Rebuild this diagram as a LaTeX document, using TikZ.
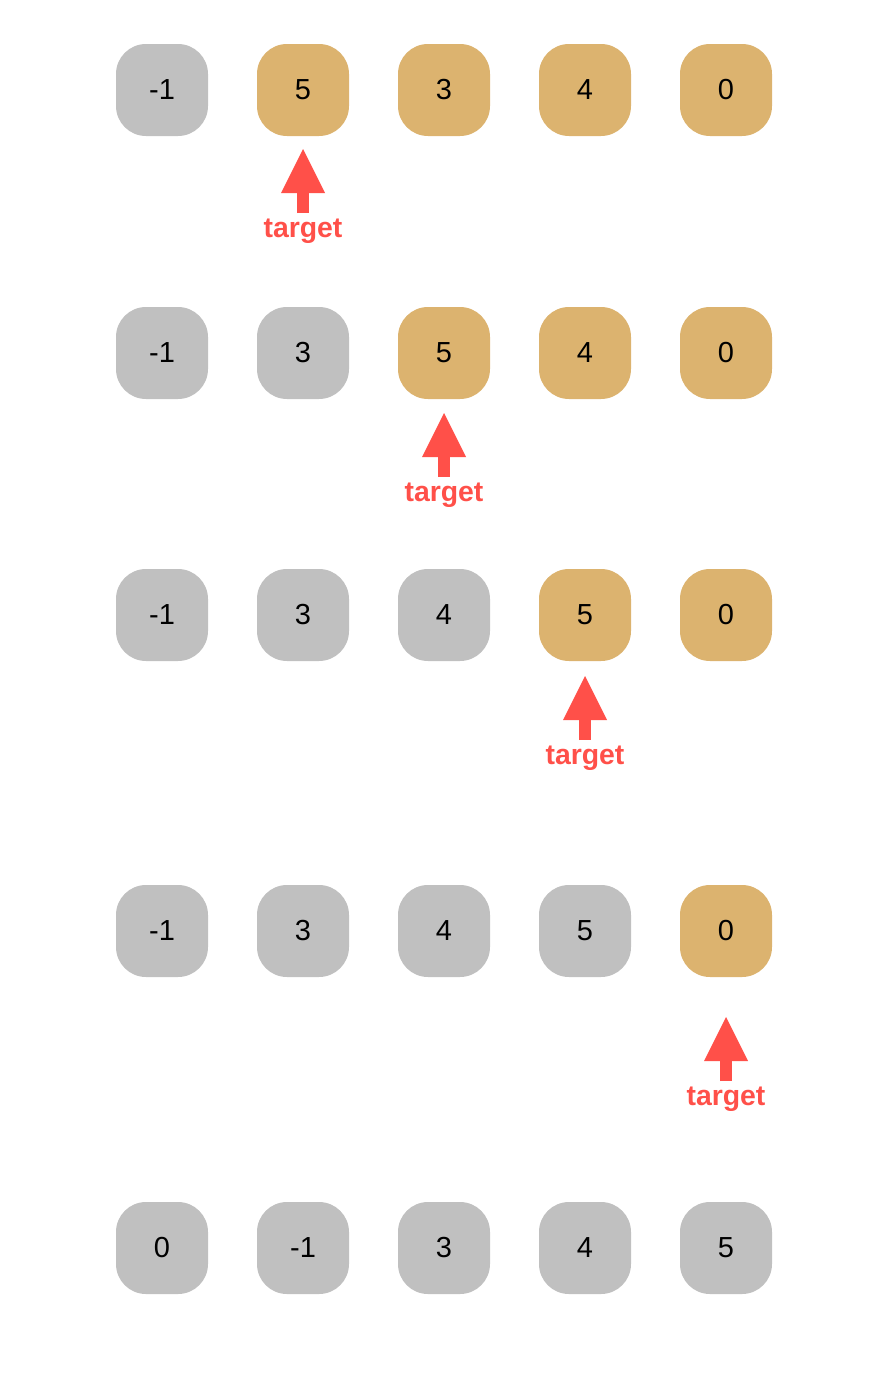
\documentclass[tikz,border=0pt]{standalone}
\usepackage{fontspec}
\setmainfont{Liberation Sans}
\usetikzlibrary{arrows.meta, positioning, calc}
\definecolor{cellgray}{HTML}{C0C0C0}
\definecolor{cellgold}{HTML}{DCB36F}
\definecolor{markred}{HTML}{FF5049}

\begin{document}
\begin{tikzpicture}[x=0.5pt, y=-0.5pt,
    cell/.style={rounded corners=15pt, minimum size=46pt, inner sep=0pt, font=\fontsize{14.5}{17}\selectfont},
    done/.style={cell, fill=cellgray},
    todo/.style={cell, fill=cellgold},
    tag/.style={text=markred, inner sep=0pt, anchor=base, font=\bfseries\fontsize{14.2}{17}\selectfont},
    pointer/.style={-{Triangle[width=22pt, length=22pt, line width=0pt]}, line width=6pt, draw=markred}]
    \useasboundingbox (0,0) rectangle (892,1392);
    % one row per pass: numbers, the first unsorted one, label baseline
    \foreach \row/\y/\hot/\ty/\nums in {1/90/2/237/{-1,5,3,4,0}, 2/353/3/501/{-1,3,5,4,0},
        3/615/4/764/{-1,3,4,5,0}, 4/931/5/1105/{-1,3,4,5,0}, 5/1248/6/0/{0,-1,3,4,5}} {
        \foreach \v [count=\c] in \nums {
            \ifnum\c<\hot
                \node[done] (b\row-\c) at (21+141*\c, \y) {\v};
            \else
                \node[todo] (b\row-\c) at (21+141*\c, \y) {\v};
            \fi
        }
        \ifnum\hot<6
            \node[tag] (t\row) at (21+141*\hot, \ty) {target};
            \coordinate (foot\row) at ($(t\row.base)+(0,-24)$);
            \coordinate (tip\row) at ($(t\row.base)+(0,-88)$);
            \draw[pointer] (foot\row) -- (tip\row);
        \fi
    }
\end{tikzpicture}
\end{document}
